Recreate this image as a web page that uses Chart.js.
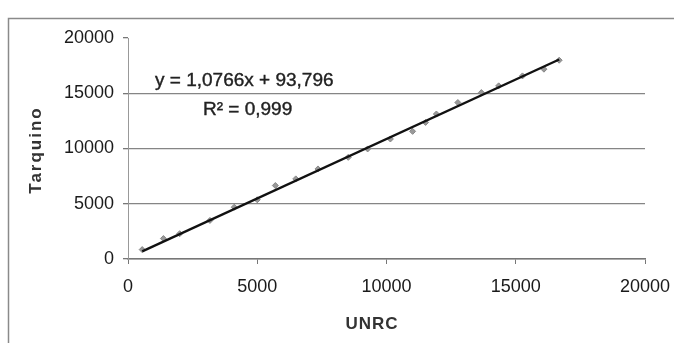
<!DOCTYPE html>
<html>
<head>
<meta charset="utf-8">
<script src="https://cdn.jsdelivr.net/npm/chart.js@4.4.1/dist/chart.umd.min.js"></script>
<style>
  html, body { margin: 0; padding: 0; background: #fff; }
  #wrap { width: 674px; height: 343px; position: relative; }
</style>
</head>
<body>
<div id="wrap"><canvas id="chart" width="674" height="343"></canvas></div>
<script>
// ===== data =====
const unrc     = [550, 1370, 2000, 3170, 4110, 5000, 5700, 6490, 7350, 8520, 9270, 10150, 11010, 11510, 11930, 12760, 13670, 14340, 15260, 16090, 16680];
const tarquino = [850, 1850, 2290, 3490, 4690, 5360, 6650, 7250, 8150, 9200, 9960, 10860, 11550, 12360, 13120, 14160, 15060, 15670, 16570, 17180, 17990];
const xTicks = [0, 5000, 10000, 15000, 20000];
const yTicks = [0, 5000, 10000, 15000, 20000];
const trendSlope = 1.0766;
const trendIntercept = 93.796;
const eqLabel = 'y = 1,0766x + 93,796';
const r2Label = 'R² = 0,999';
const xTitle = 'UNRC';
const yTitle = 'Tarquino';

const FONT = "'Liberation Sans', Arial, sans-serif";

const points = unrc.map((x, i) => ({ x, y: tarquino[i] }));
const xMin = Math.min(...unrc), xMax = Math.max(...unrc);
const trend = [xMin, xMax].map(x => ({ x, y: trendSlope * x + trendIntercept }));

// frame, axis titles, equation text
const decor = {
  id: 'decor',
  beforeDraw(chart) {
    const c = chart.ctx;
    c.save();
    c.fillStyle = '#fff';
    c.fillRect(0, 0, chart.width, chart.height);
    c.strokeStyle = '#8a8a8a';
    c.lineWidth = 1.5;
    c.strokeRect(8.5, 18.5, 700, 400);
    c.restore();
  },
  afterDatasetsDraw(chart) {
    const c = chart.ctx;
    c.save();
    c.fillStyle = '#222';
    c.strokeStyle = '#222';
    c.lineWidth = 0.4;
    c.font = `19px ${FONT}`;
    c.textBaseline = 'middle';
    c.textAlign = 'left';
    c.fillText(eqLabel, 155, 81);
    c.strokeText(eqLabel, 155, 81);
    c.fillText(r2Label, 203, 110);
    c.strokeText(r2Label, 203, 110);

    c.fillStyle = '#333';
    c.font = `bold 17px ${FONT}`;
    c.textAlign = 'center';
    c.letterSpacing = '1px';
    c.fillText(xTitle, 372, 324);
    c.letterSpacing = '2px';
    c.translate(36, 150);
    c.rotate(-Math.PI / 2);
    c.fillText(yTitle, 0, 0);
    c.restore();
  }
};

new Chart(document.getElementById('chart'), {
  type: 'scatter',
  data: {
    datasets: [
      {
        type: 'line',
        data: trend,
        borderColor: '#111',
        borderWidth: 2.4,
        pointRadius: 0,
        fill: false,
        order: 0
      },
      {
        data: points,
        pointStyle: 'rectRot',
        pointRadius: 3,
        backgroundColor: '#999',
        borderColor: '#888',
        borderWidth: 1,
        order: 1
      }
    ]
  },
  options: {
    responsive: false,
    animation: false,
    layout: { padding: { left: 0, top: 38, right: 29, bottom: 0 } },
    plugins: { legend: { display: false }, tooltip: { enabled: false } },
    scales: {
      x: {
        type: 'linear',
        min: 0, max: 20000,
        afterBuildTicks: s => { s.ticks = xTicks.map(v => ({ value: v })); },
        afterFit: s => { s.height = 343 - 259; s.paddingLeft = 0; s.paddingRight = 0; },
        grid: { drawOnChartArea: false, tickLength: 5, tickColor: '#777' },
        border: { color: '#777', width: 1.5 },
        ticks: { color: '#1a1a1a', font: { family: FONT, size: 18 }, padding: 12, maxRotation: 0, callback: v => String(v) },
        title: { display: false }
      },
      y: {
        min: 0, max: 20000,
        afterBuildTicks: s => { s.ticks = yTicks.map(v => ({ value: v })); },
        afterFit: s => { s.width = 128; s.paddingTop = 0; s.paddingBottom = 0; },
        grid: {
          color: ctx => (ctx.tick && ctx.tick.value === 20000) ? 'rgba(0,0,0,0)' : '#858585',
          lineWidth: 1.3, tickLength: 5, tickColor: '#777'
        },
        border: { color: '#999', width: 1 },
        ticks: { color: '#1a1a1a', font: { family: FONT, size: 18 }, padding: 9, callback: v => String(v) },
        title: { display: false }
      }
    }
  },
  plugins: [decor]
});
</script>
</body>
</html>
